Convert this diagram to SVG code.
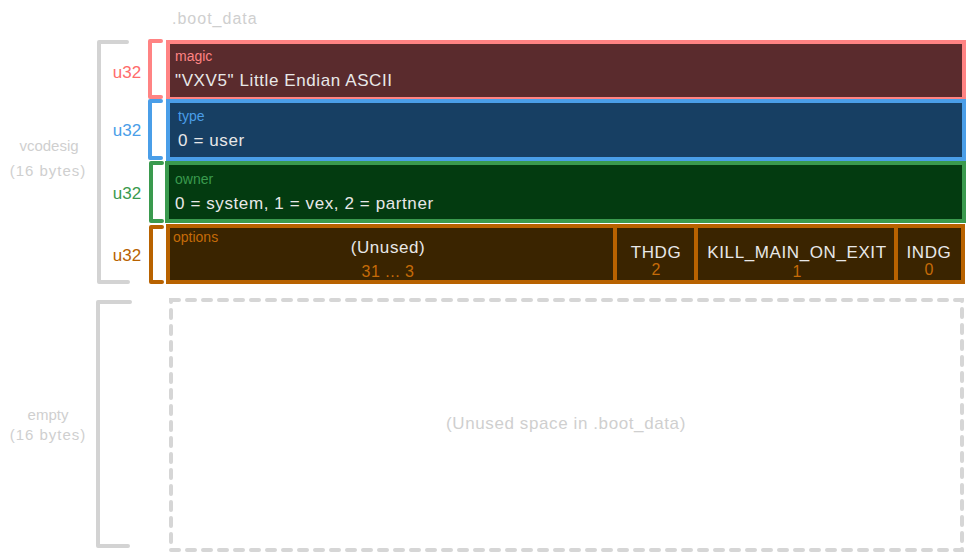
<svg xmlns="http://www.w3.org/2000/svg" width="975" height="560" viewBox="0 0 975 560">
<style>
text{font-family:"Liberation Sans","DejaVu Sans",sans-serif}
.lbl{font-size:14px}
.body{font-size:17px;fill:#e8e8e8;letter-spacing:0.6px}
.gray{fill:#cfcfcf}
.u32{font-size:17px;text-anchor:middle}
.brk{fill:none;stroke-width:4;stroke-linejoin:round;stroke-linecap:round}
.box{stroke-width:4}
</style>
<rect width="975" height="560" fill="#ffffff"/>
<text class="gray" x="172" y="24" font-size="16" letter-spacing="1">.boot_data</text>

<g id="vcodesig-bracket">
<path class="brk" d="M127 42 H99 V282 H128" stroke="#d3d3d3"/>
<text class="gray" x="49" y="151" font-size="15" text-anchor="middle">vcodesig</text>
<text class="gray" x="48" y="176" font-size="15" letter-spacing="1" text-anchor="middle">(16 bytes)</text>
</g>

<g id="magic">
<rect class="box" x="168" y="42" width="796" height="57" fill="#5a2b2d" stroke="#ff8383"/>
<path class="brk" d="M161 41 H150 V97 H161" stroke="#ff8383"/>
<text class="u32" x="127" y="78" fill="#ff6b6b">u32</text>
<text class="lbl" x="175" y="61" fill="#ff8383">magic</text>
<text class="body" x="175" y="86">"VXV5" Little Endian ASCII</text>
</g>

<g id="type">
<rect class="box" x="168" y="101" width="796" height="58" fill="#173f63" stroke="#4a9ee8"/>
<path class="brk" d="M161 101 H150 V158 H161" stroke="#4a9ee8"/>
<text class="u32" x="127" y="136" fill="#4a9ee8">u32</text>
<text class="lbl" x="178" y="121" fill="#4a9ee8">type</text>
<text class="body" x="178" y="146">0 = user</text>
</g>

<g id="owner">
<rect class="box" x="167" y="163" width="797" height="58" fill="#033b10" stroke="#3a9a4e"/>
<path class="brk" d="M162 163 H151 V221 H162" stroke="#3a9a4e"/>
<text class="u32" x="127" y="199" fill="#3a9a4e">u32</text>
<text class="lbl" x="175" y="184" fill="#3a9a4e">owner</text>
<text class="body" x="175" y="209">0 = system, 1 = vex, 2 = partner</text>
</g>

<g id="options">
<rect class="box" x="168" y="226" width="795" height="56" fill="#3a2400" stroke="#b86200"/>
<path class="brk" d="M162 227 H151 V282 H162" stroke="#b86200"/>
<line x1="615" y1="226" x2="615" y2="282" stroke="#b86200" stroke-width="4"/>
<line x1="696" y1="226" x2="696" y2="282" stroke="#b86200" stroke-width="4"/>
<line x1="896" y1="226" x2="896" y2="282" stroke="#b86200" stroke-width="4"/>
<text class="u32" x="127" y="261" fill="#b86200">u32</text>
<text class="lbl" x="173" y="242" fill="#c56b08">options</text>
<text class="body" x="388" y="253" text-anchor="middle" font-size="16">(Unused)</text>
<text x="388" y="277" font-size="16" fill="#c56b08" text-anchor="middle" letter-spacing="0.5">31 ... 3</text>
<text class="body" x="656" y="258" text-anchor="middle" font-size="15">THDG</text>
<text x="656" y="275" font-size="16" fill="#c56b08" text-anchor="middle">2</text>
<text class="body" x="797" y="258" text-anchor="middle" font-size="15" letter-spacing="0.4">KILL_MAIN_ON_EXIT</text>
<text x="797" y="277" font-size="16" fill="#c56b08" text-anchor="middle">1</text>
<text class="body" x="929" y="258" text-anchor="middle" font-size="15">INDG</text>
<text x="929" y="275" font-size="16" fill="#c56b08" text-anchor="middle">0</text>
</g>

<g id="empty">
<path class="brk" d="M130 302 H98 V546 H128" stroke="#d3d3d3"/>
<text class="gray" x="48" y="420" font-size="15" text-anchor="middle">empty</text>
<text class="gray" x="48" y="440" font-size="15" letter-spacing="1" text-anchor="middle">(16 bytes)</text>
<rect x="171" y="300" width="791" height="250" fill="none" stroke="#d6d6d6" stroke-width="4" stroke-dasharray="8 8" stroke-linecap="round"/>
<text class="gray" x="566" y="429" font-size="17" letter-spacing="0.6" text-anchor="middle">(Unused space in .boot_data)</text>
</g>

<g id="connectors"></g>
</svg>
